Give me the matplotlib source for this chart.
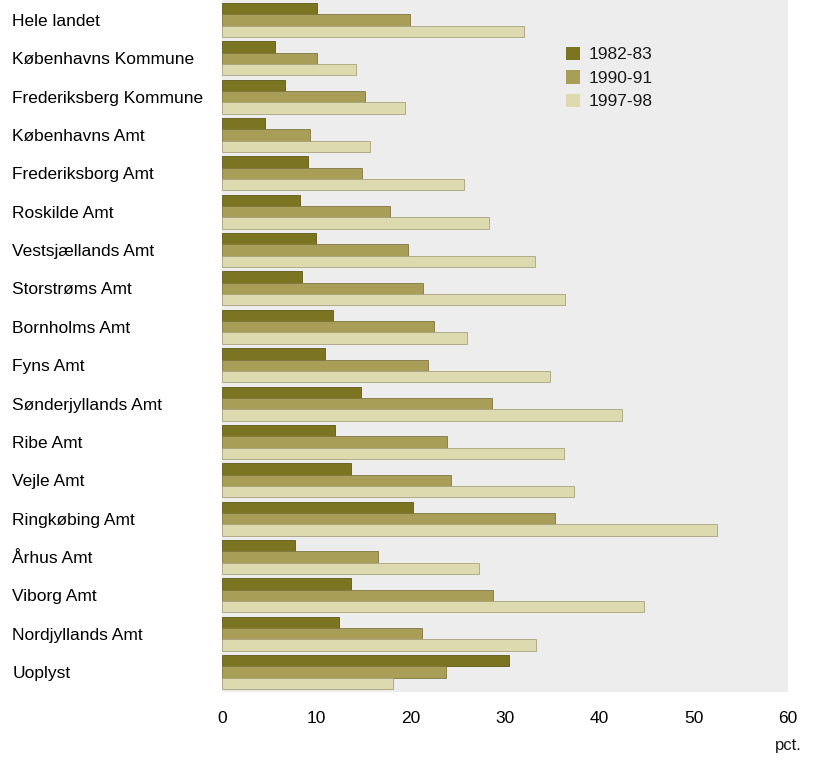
import matplotlib
matplotlib.use("Agg")
import matplotlib.pyplot as plt
import numpy as np

plt.rcParams.update(
    {
        "font.family": ["Liberation Sans Narrow", "Liberation Sans", "DejaVu Sans"],
        "font.size": 12,
        "text.color": "#1a1a1a",
    }
)

# Data (pct.)
categories = [
    "Hele landet",
    "Københavns Kommune",
    "Frederiksberg Kommune",
    "Københavns Amt",
    "Frederiksborg Amt",
    "Roskilde Amt",
    "Vestsjællands Amt",
    "Storstrøms Amt",
    "Bornholms Amt",
    "Fyns Amt",
    "Sønderjyllands Amt",
    "Ribe Amt",
    "Vejle Amt",
    "Ringkøbing Amt",
    "Århus Amt",
    "Viborg Amt",
    "Nordjyllands Amt",
    "Uoplyst",
]
series_labels = ["1982-83", "1990-91", "1997-98"]
values_1982 = [10.1, 5.6, 6.7, 4.6, 9.1, 8.3, 10.0, 8.5, 11.8, 10.9, 14.7, 12.0, 13.7, 20.3, 7.7, 13.7, 12.4, 30.4]
values_1990 = [19.9, 10.1, 15.2, 9.3, 14.8, 17.8, 19.7, 21.3, 22.5, 21.8, 28.6, 23.8, 24.3, 35.3, 16.5, 28.7, 21.2, 23.7]
values_1997 = [32.0, 14.2, 19.4, 15.7, 25.7, 28.3, 33.2, 36.4, 26.0, 34.8, 42.4, 36.3, 37.3, 52.5, 27.2, 44.7, 33.3, 18.1]
xticks = [0, 10, 20, 30, 40, 50, 60]

colors = ["#7b7522", "#a99e58", "#dedab0"]
edges = ["#5e5818", "#807743", "#a8a380"]

fig = plt.figure(figsize=(8.13, 7.61), dpi=100)
ax = fig.add_axes([222 / 813, 1 - 692 / 761, 566 / 813, 692 / 761])
ax.set_facecolor("#ededed")

y = np.arange(len(categories))
h = 0.295
for k, (vals, lab) in enumerate(zip([values_1982, values_1990, values_1997], series_labels)):
    ax.barh(
        y + (k - 1) * h,
        vals,
        height=h,
        color=colors[k],
        edgecolor=edges[k],
        linewidth=0.6,
        label=lab,
    )

ax.set_xlim(0, 60)
ax.set_ylim(len(categories) - 0.48, -0.52)

for s in ax.spines.values():
    s.set_visible(False)

ax.set_xticks(xticks)
ax.set_xticklabels([str(t) for t in xticks], fontsize=12.5)
ax.tick_params(axis="x", length=0, pad=14)

ax.set_yticks(y)
ax.set_yticklabels(categories, fontsize=12.5, ha="left")
ax.tick_params(axis="y", length=0, pad=151)

ax.text(1.0, -0.077, "pct.", transform=ax.transAxes, ha="center", va="center", fontsize=12)

leg = ax.legend(
    loc="upper left",
    bbox_to_anchor=(0.58, 0.955),
    frameon=False,
    fontsize=12.5,
    handlelength=0.8,
    handleheight=0.8,
    handletextpad=0.5,
    labelspacing=0.45,
)
for p in leg.get_patches():
    p.set_edgecolor("none")

fig.savefig("out.png", dpi=100, facecolor="white")
